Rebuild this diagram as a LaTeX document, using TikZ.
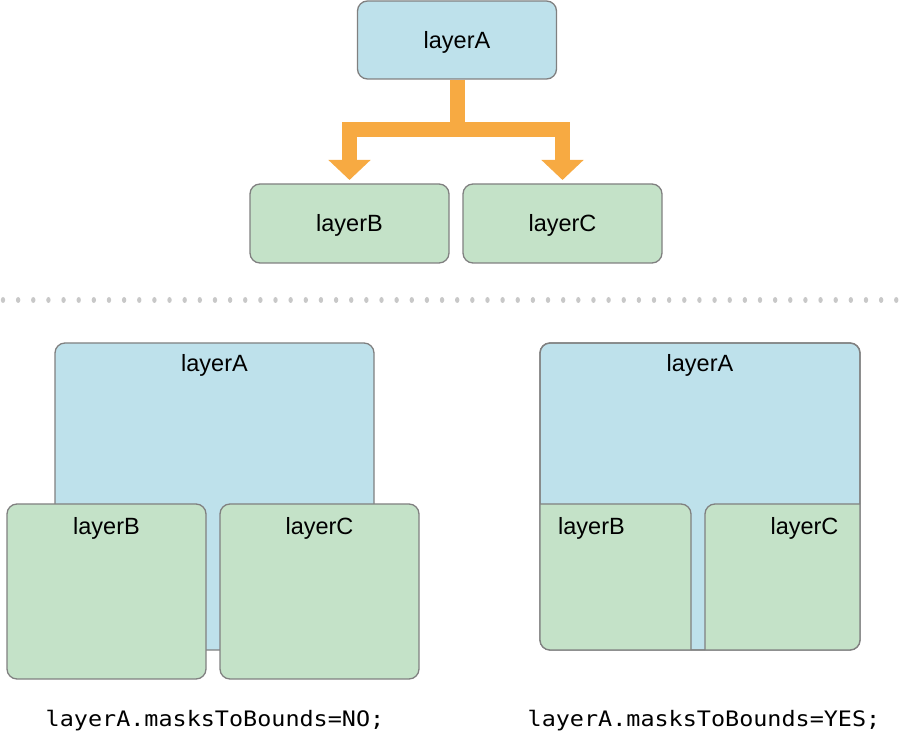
\documentclass[tikz,border=0pt]{standalone}
\usepackage{fontspec}
\setmainfont{Liberation Sans}
\newfontfamily\codefont[FakeStretch=1.1]{DejaVu Sans Mono}
\usetikzlibrary{positioning, arrows.meta}
\definecolor{layerblue}{RGB}{190,225,235}
\definecolor{layergreen}{RGB}{196,226,200}
\definecolor{floworange}{RGB}{247,170,66}
\definecolor{edgegray}{RGB}{128,128,128}
\definecolor{dotgray}{RGB}{200,200,200}

\begin{document}
\begin{tikzpicture}[x=1pt, y=-1pt,
	layer/.style={draw=edgegray, line width=1.3pt, rounded corners=10pt, inner sep=0pt, outer sep=0pt},
	ablue/.style={layer, fill=layerblue},
	bgreen/.style={layer, fill=layergreen},
	lbl/.style={font=\fontsize{23.5}{28}\selectfont, inner sep=0pt, text height=16.5pt, text depth=0pt},
	codetext/.style={font=\codefont\fontsize{21.3}{26}\selectfont, inner sep=0pt, text height=15.5pt, text depth=0pt},
	flow/.style={draw=floworange, line width=15pt, -{Triangle[width=41pt,length=20pt]}, shorten >=4pt}]

\useasboundingbox (0,0) rectangle (906,735);

%---------TREE-----------%
\node [ablue, lbl, minimum width=199pt, minimum height=78pt] (topA) at (457,40) {layerA};
\node [bgreen, lbl, minimum width=199pt, minimum height=79pt] (topB) at (349.5,223.5) {layerB};
\node [bgreen, lbl, minimum width=199pt, minimum height=79pt] (topC) at (562.5,223.5) {layerC};

\coordinate (split) at ([yshift=-50.5pt]topA.south);
\draw[flow] ([yshift=-0.7pt]topA.south) -- (split) -| (topB.north);
\draw[flow] ([yshift=-0.7pt]topA.south) -- (split) -| (topC.north);

%---------SEPARATOR-----------%
\foreach \i in {0,...,59}{
	\fill[dotgray] (3+\i*15.14, 300) ellipse (2.2 and 3);
};

%---------MASKS TO BOUNDS = NO-----------%
\node [ablue, anchor=north west, minimum width=319pt, minimum height=307pt] (noA) at (55,343) {};
\node [lbl] (noAtxt) at ([yshift=-20pt]noA.north) {layerA};
\node [bgreen, anchor=north west, minimum width=199pt, minimum height=175pt] (noB) at (7,504) {};
\node [lbl] (noBtxt) at ([yshift=-22pt]noB.north) {layerB};
\node [bgreen, anchor=north west, minimum width=199pt, minimum height=175pt] (noC) at (220,504) {};
\node [lbl] (noCtxt) at ([yshift=-22pt]noC.north) {layerC};

%---------MASKS TO BOUNDS = YES-----------%
\node [ablue, anchor=north west, minimum width=320pt, minimum height=307pt] (yesA) at (540,343) {};
\begin{scope}
	\clip[rounded corners=10pt] (yesA.north west) rectangle (yesA.south east);
	\node [bgreen, anchor=north west, minimum width=199pt, minimum height=175pt] (yesB) at (492,504) {};
	\node [bgreen, anchor=north west, minimum width=199pt, minimum height=175pt] (yesC) at (705,504) {};
\end{scope}
\draw[draw=edgegray, line width=1.3pt, rounded corners=10pt] (yesA.north west) rectangle (yesA.south east);
\node [lbl] (yesAtxt) at ([yshift=-20pt]yesA.north) {layerA};
\node [lbl] (yesBtxt) at ([yshift=-22pt]yesB.north) {layerB};
\node [lbl] (yesCtxt) at ([yshift=-22pt]yesC.north) {layerC};

%--------COMMENTS-----------%
\node [codetext] (noCode) at (215,718.5) {layerA.masksToBounds=NO;};
\node [codetext] (yesCode) at (704,718.5) {layerA.masksToBounds=YES;};

\end{tikzpicture}
\end{document}
